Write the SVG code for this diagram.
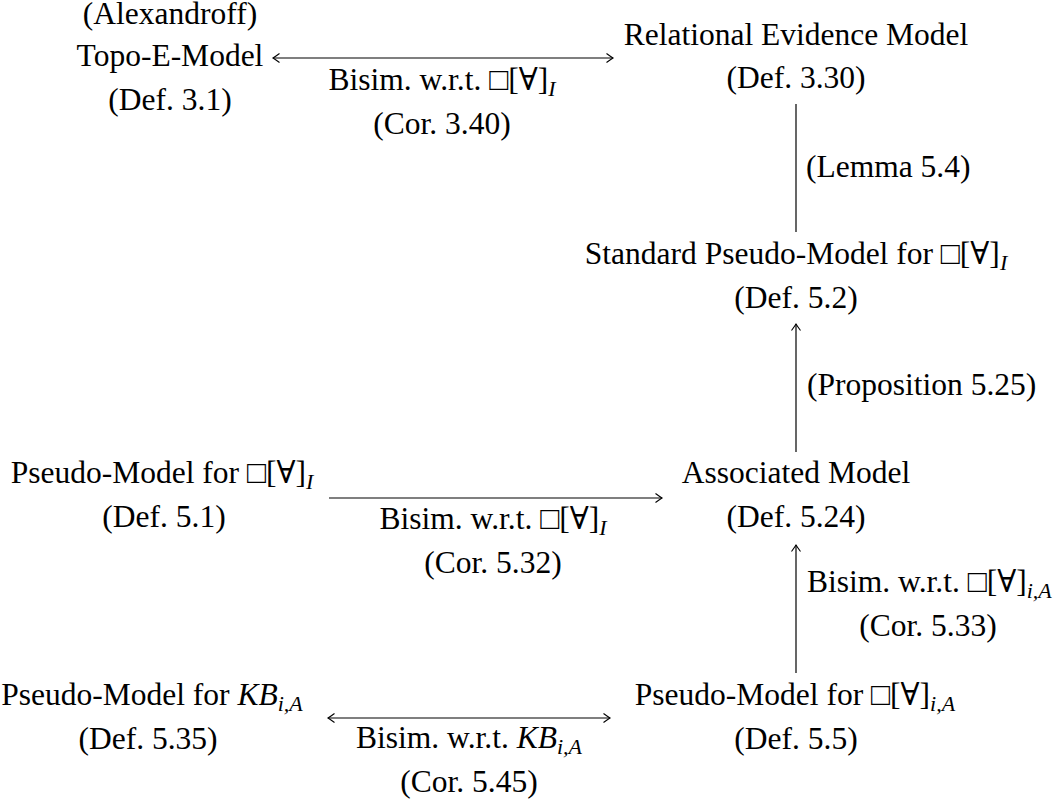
<svg xmlns="http://www.w3.org/2000/svg" width="1060" height="805" viewBox="0 0 1060 805">
<style>
text{font-family:"Liberation Serif","DejaVu Serif",serif;font-size:31.5px;fill:#000}
.m{text-anchor:middle}
.sub{font-style:italic;font-size:22px}
.c{stroke:#000;stroke-width:1.2;fill:none}
</style>
<defs>
<marker id="ah" markerUnits="userSpaceOnUse" viewBox="-8 -6 10 12" refX="0" refY="0" markerWidth="10" markerHeight="12" orient="auto-start-reverse">
<path d="M-6.5,-4.5 Q-2,-1.2 0,0 Q-2,1.2 -6.5,4.5" fill="none" stroke="#000" stroke-width="1.1"/>
</marker>
</defs>
<rect width="1060" height="805" fill="#fff"/>
<g id="topo">
<text class="m" x="170" y="24">(Alexandroff)</text>
<text class="m" x="170" y="66">Topo-E-Model</text>
<text class="m" x="170" y="110">(Def. 3.1)</text>
</g>
<g id="relational">
<text class="m" x="796" y="45">Relational Evidence Model</text>
<text class="m" x="796" y="88">(Def. 3.30)</text>
</g>
<g id="standard">
<text class="m" x="796" y="264">Standard Pseudo-Model for □[∀]<tspan class="sub" dy="6">I</tspan></text>
<text class="m" x="796" y="308">(Def. 5.2)</text>
</g>
<g id="pseudoI">
<text class="m" x="162" y="483">Pseudo-Model for □[∀]<tspan class="sub" dy="6">I</tspan></text>
<text class="m" x="164" y="527">(Def. 5.1)</text>
</g>
<g id="associated">
<text class="m" x="796" y="483">Associated Model</text>
<text class="m" x="796" y="527">(Def. 5.24)</text>
</g>
<g id="pseudoKB">
<text class="m" x="152" y="705">Pseudo-Model for <tspan font-style="italic">KB</tspan><tspan class="sub" dy="6">i,A</tspan></text>
<text class="m" x="148" y="749">(Def. 5.35)</text>
</g>
<g id="pseudoiA">
<text class="m" x="795" y="705">Pseudo-Model for □[∀]<tspan class="sub" dy="6">i,A</tspan></text>
<text class="m" x="796" y="749">(Def. 5.5)</text>
</g>
<g id="connectors">
<line class="c" x1="273" y1="58" x2="613" y2="58" marker-start="url(#ah)" marker-end="url(#ah)"/>
<line class="c" x1="796" y1="104" x2="796" y2="232"/>
<line class="c" x1="796" y1="452" x2="796" y2="324" marker-end="url(#ah)"/>
<line class="c" x1="329" y1="498" x2="662" y2="498" marker-end="url(#ah)"/>
<line class="c" x1="796" y1="673" x2="796" y2="545" marker-end="url(#ah)"/>
<line class="c" x1="328" y1="718" x2="610" y2="718" marker-start="url(#ah)" marker-end="url(#ah)"/>
</g>
<g id="labels">
<text class="m" x="442" y="90">Bisim. w.r.t. □[∀]<tspan class="sub" dy="6">I</tspan></text>
<text class="m" x="442" y="134">(Cor. 3.40)</text>
<text x="806" y="177">(Lemma 5.4)</text>
<text x="807" y="395">(Proposition 5.25)</text>
<text class="m" x="493" y="529">Bisim. w.r.t. □[∀]<tspan class="sub" dy="6">I</tspan></text>
<text class="m" x="493" y="573">(Cor. 5.32)</text>
<text x="807" y="592">Bisim. w.r.t. □[∀]<tspan class="sub" dy="6">i,A</tspan></text>
<text class="m" x="928" y="636">(Cor. 5.33)</text>
<text class="m" x="469" y="748">Bisim. w.r.t. <tspan font-style="italic">KB</tspan><tspan class="sub" dy="6">i,A</tspan></text>
<text class="m" x="469" y="792">(Cor. 5.45)</text>
</g>
</svg>
